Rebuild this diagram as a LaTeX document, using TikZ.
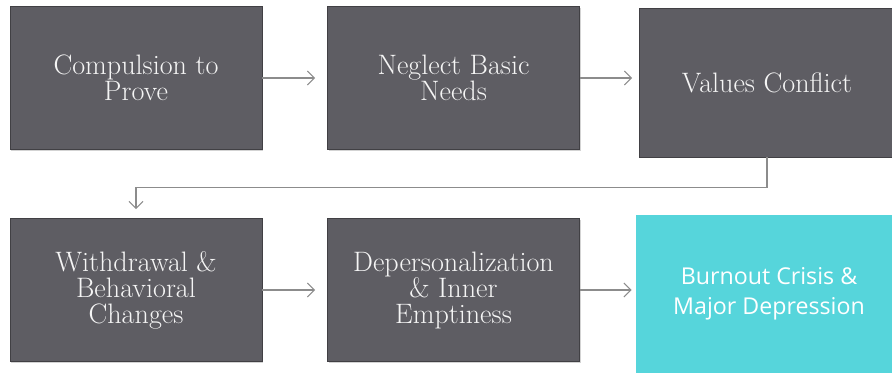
\documentclass[tikz,border=0pt]{standalone}
\usepackage{fontspec}
\newfontfamily\opensans{Open Sans}
\usetikzlibrary{arrows.meta,shadows}

\definecolor{stagegray}{HTML}{5E5D63}
\definecolor{stageedge}{HTML}{414044}
\definecolor{crisiscyan}{HTML}{56D5DB}
\definecolor{arrowgray}{HTML}{8C8C8C}

\begin{document}
\begin{tikzpicture}[
  >={Straight Barb[length=4pt,width=8pt]},
  stage/.style={draw=stageedge, fill=stagegray, minimum width=5.04cm,
              minimum height=2.86cm, align=center, text=white!96!black,
              font=\fontsize{16}{14.8}\selectfont,
              drop shadow={shadow xshift=0.6pt, shadow yshift=-0.8pt, opacity=0.35}},
  crisis/.style={fill=crisiscyan, minimum width=5.32cm, minimum height=3.16cm,
              align=center, text=white, font=\opensans\fontsize{13.2}{17}\selectfont,
              drop shadow={shadow xshift=0.6pt, shadow yshift=-0.8pt, opacity=0.25}},
  arr/.style={->, draw=arrowgray, line width=0.6pt},
]
\clip (0,0) rectangle (17.84,-7.46);
\useasboundingbox (0,0) rectangle (17.84,-7.46);

% === Top row ===
\node[stage] (compulsion) at (2.72,-1.56) {Compulsion to\\Prove};
\node[stage] (neglect) at (9.07,-1.56) {Neglect Basic\\Needs};
\node[stage, minimum width=5.1cm, minimum height=2.98cm] (values) at (15.34,-1.65) {Values Conflict};

% === Bottom row ===
\node[stage] (withdrawal) at (2.72,-5.8) {Withdrawal \&\\Behavioral\\Changes};
\node[stage] (depersonal) at (9.07,-5.8) {Depersonalization\\\& Inner\\Emptiness};
\node[crisis] (burnout) at (15.38,-5.88) {Burnout Crisis \&\\Major Depression};

% Arrows
\draw[arr, shorten >=0.24cm] (compulsion.east) -- (neglect.west);
\draw[arr, shorten >=0.14cm] (neglect.east) -- (values.west |- neglect.east);
\draw[arr, shorten >=0.18cm] (values.south) -- ++(0,-0.6) -| (withdrawal.north);
\draw[arr, shorten >=0.24cm] (withdrawal.east) -- (depersonal.west);
\draw[arr, shorten >=0.08cm] (depersonal.east) -- (burnout.west |- depersonal.east);

\end{tikzpicture}
\end{document}
